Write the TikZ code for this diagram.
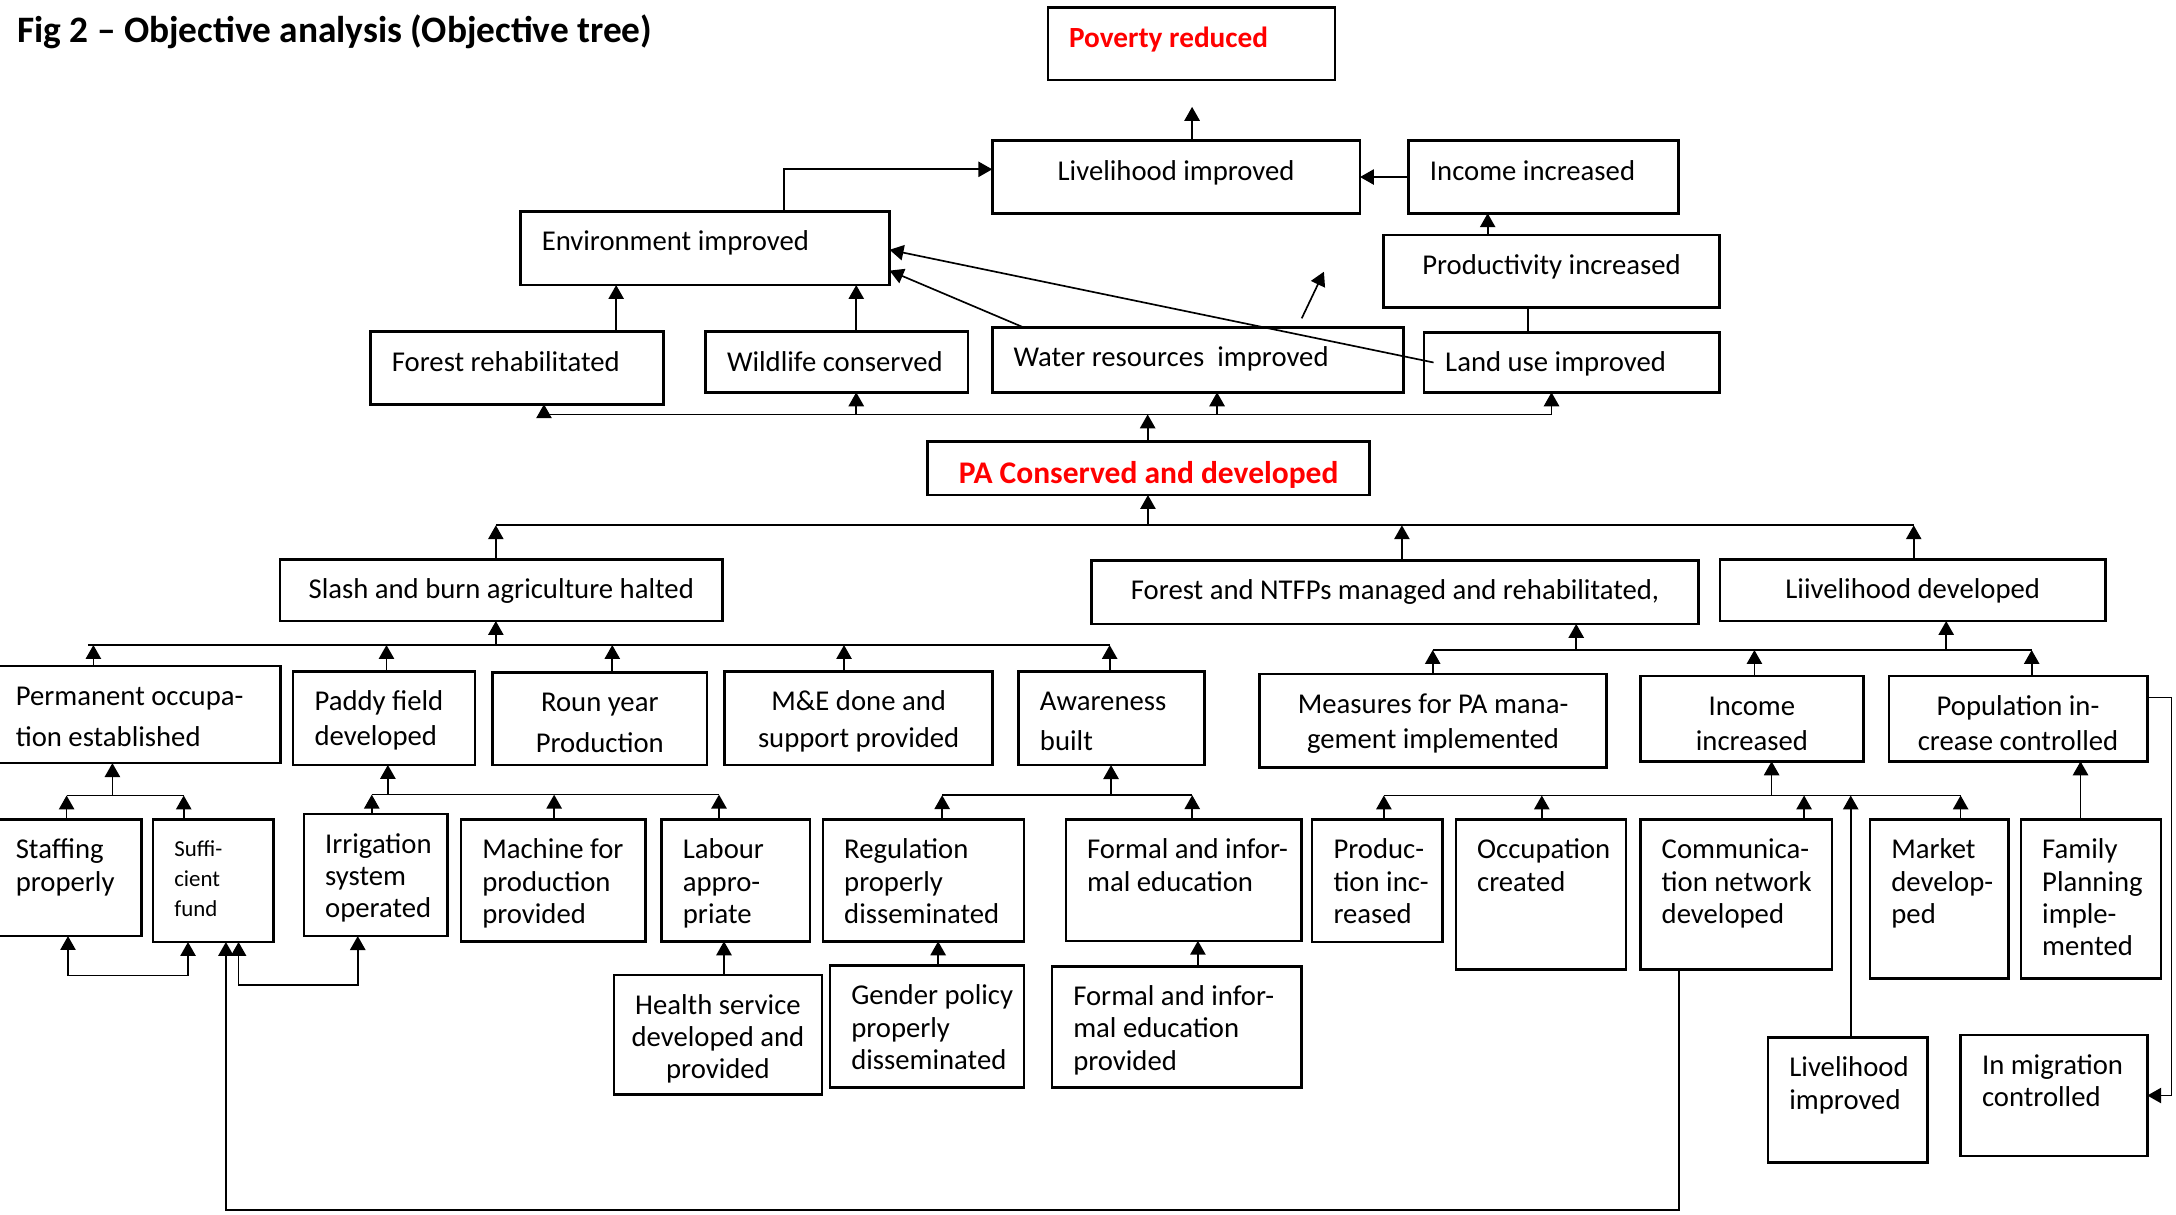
\documentclass[tikz,border=0pt]{standalone}
\usepackage{fontspec}
\setmainfont{Carlito}
\usetikzlibrary{arrows.meta,positioning}
\definecolor{objred}{RGB}{255,0,0}
\tikzset{
  box/.style={draw, line width=0.9pt, anchor=north west, inner sep=0pt, outer sep=0pt},
  lbl/.style={inner sep=0pt, font=\fontsize{10.3}{11.6}\selectfont},
  title/.style={inner sep=0pt, font=\fontsize{13.4}{15}\selectfont\bfseries},
  goaltext/.style={font=\fontsize{10.5}{12}\selectfont\bfseries, text=objred},
  purptext/.style={font=\fontsize{11.3}{13}\selectfont\bfseries, text=objred},
  smalltext/.style={font=\fontsize{8.2}{10.7}\selectfont},
  link/.style={line width=0.6pt},
  arr/.style={link, -{Triangle[length=5pt,width=5.5pt]}},
  dblarr/.style={link, {Triangle[length=5pt,width=5.5pt]}-{Triangle[length=5pt,width=5.5pt]}},
}
% box with left aligned text: [text options]{name}{x1}{y1}{x2}{y2}{text}
\newcommand{\objboxl}[7][]{%
  \pgfmathsetmacro{\bw}{((#5)-(#3))*0.0175}%
  \pgfmathsetmacro{\bh}{((#6)-(#4))*0.0175}%
  \node[box, minimum width=\bw cm, minimum height=\bh cm] (#2) at (#3,#4) {};
  \node[lbl, align=left, anchor=north west, #1] (#2-t) at ([shift={(0.2625cm,-0.2035cm)}]#2.north west) {\strut #7};}
% box with centred text
\newcommand{\objboxc}[7][]{%
  \pgfmathsetmacro{\bw}{((#5)-(#3))*0.0175}%
  \pgfmathsetmacro{\bh}{((#6)-(#4))*0.0175}%
  \node[box, minimum width=\bw cm, minimum height=\bh cm] (#2) at (#3,#4) {};
  \node[lbl, align=center, anchor=north, #1] (#2-t) at ([yshift=-0.2035cm]#2.north) {\strut #7};}

\begin{document}
\begin{tikzpicture}[x=0.0175cm, y=-0.0175cm]
  \useasboundingbox (0,0) rectangle (1568,875);
  \node[title, anchor=base west] (title) at (12,30.7) {Fig 2 – Objective analysis (Objective tree)};

  % Goal and upper objectives
  \objboxl[goaltext]{pov}{755}{5.3}{962}{57.6}{Poverty reduced}
  \objboxc{liv}{715}{101.4}{980}{153.7}{Livelihood improved}
  \objboxl{inc}{1015}{101.4}{1209.6}{153.7}{Income increased}
  \objboxl{env}{375}{152.5}{641}{205.4}{Environment improved}
  \objboxc{prod}{997}{169.3}{1239}{221.4}{Productivity increased}
  \objboxl{forest}{267}{239}{478}{291.3}{Forest rehabilitated}
  \objboxl{wild}{508.5}{239}{697.5}{282.7}{Wildlife conserved}
  \objboxl{water}{715}{236.1}{1011.3}{282.7}{Water resources\ \ improved}
  \objboxl{land}{1026}{239.7}{1239}{282.7}{Land use improved}
  \objboxc[purptext]{pa}{668.4}{318.2}{987}{356.7}{PA Conserved and developed}

  % Outputs
  \objboxc{slash}{201.8}{403}{520.6}{447.5}{Slash and burn agriculture halted}
  \objboxc{fnt}{786.6}{404}{1223.9}{449.6}{Forest and NTFPs managed and rehabilitated,}
  \objboxc{ldev}{1239.4}{403}{1517.2}{447.5}{Liivelihood developed}

  % Third level
  \objboxl{perm}{-4}{479.8}{202.2}{549.9}{Permanent occupa-\\[3.3pt]tion established}
  \objboxl{paddy}{211.3}{483.8}{342.2}{551.2}{Paddy field\\[1pt]developed}
  \objboxc{roun}{354.9}{484.5}{509.5}{551.2}{Roun year\\[3.2pt]Production}
  \objboxc{me}{522.2}{483.8}{715.3}{551.2}{M\&E done and\\[1.6pt]support provided}
  \objboxl{aware}{734}{483.8}{867.8}{551.3}{Awareness\\[2.8pt]built}
  \objboxc{meas}{907.7}{485.5}{1157.6}{553.1}{Measures for PA mana-\\[1.2pt]gement implemented}
  \objboxc{incm}{1182}{487}{1342.8}{548.6}{Income\\[1.2pt]increased}
  \objboxc{popc}{1361}{487}{1547.3}{548.6}{Population in-\\[1.2pt]crease controlled}

  % Activities
  \objboxl{staff}{-4}{590.4}{102.1}{674.5}{Staffing\\properly}
  \objboxl[smalltext]{suf}{110.2}{590.4}{197.1}{678.8}{Suffi-\\cient\\fund}
  \objboxl{irr}{218.9}{586.5}{322.5}{674.5}{Irrigation\\system\\operated}
  \objboxl{mach}{332.1}{590.4}{465}{678.3}{Machine for\\production\\provided}
  \objboxl{lab}{476.7}{590.4}{583.8}{678.3}{Labour\\appro-\\priate}
  \objboxl{reg}{592.9}{590.4}{738}{678.3}{Regulation\\properly\\disseminated}
  \objboxl{form}{768}{590.4}{937.7}{677.9}{Formal and infor-\\mal education}
  \objboxl{prodi}{945.5}{590.4}{1039.6}{678.6}{Produc-\\tion inc-\\reased}
  \objboxl{occ}{1049}{590.4}{1171.7}{698.6}{Occupation\\created}
  \objboxl{comm}{1182}{590.4}{1320}{698.6}{Communica-\\tion network\\developed}
  \objboxl{mkt}{1347.5}{590.4}{1447.4}{705}{Market\\develop-\\ped}
  \objboxl{fam}{1456.2}{590.4}{1557.1}{705}{Family\\Planning\\imple-\\mented}
  \objboxc{health}{442.3}{702.4}{592.4}{788.5}{Health service\\developed and\\provided}
  \objboxl{gend}{598}{695.8}{738}{783.7}{Gender policy\\properly\\disseminated}
  \objboxl{form2}{758}{696.3}{937.7}{783.7}{Formal and infor-\\mal education\\provided}
  \objboxl{liv2}{1274}{747.7}{1389}{837.8}{Livelihood\\improved}
  \objboxl{migr}{1412.8}{745.8}{1547.3}{833}{In migration\\controlled}

  % Links in the upper part
  \coordinate (povin) at (859,77);
  \draw[arr] (liv.north -| povin) -- (povin);
  \draw[arr] (inc.west) -- (liv.east);
  \draw[arr] (env.north -| 565,0) |- (liv.west |- 0,122);
  \draw[arr] (prod.north -| 1072,0) -- (inc.south -| 1072,0);
  \draw[link] (land.north -| 1101,0) -- (prod.south -| 1101,0);
  \draw[arr] (forest.north -| 444,0) -- (env.south -| 444,0);
  \draw[arr] (wild.north -| 617,0) -- (env.south -| 617,0);
  \draw[arr] (water.north -| 738,0) -- (env.east |- 0,195);
  \draw[arr] (land.west -| 1033,0) -- (env.east |- 0,180);
  \coordinate (strayA) at (938,229.4);
  \coordinate (strayB) at (954,195.8);
  \draw[arr] (strayA) -- (strayB);

  \coordinate (busA) at (0,298.6);
  \draw[link] (392,0 |- busA) -- (1118,0 |- busA);
  \foreach \n/\x in {forest/392, wild/617, water/877, land/1118}
    \draw[arr] (\x,0 |- busA) -- (\n.south -| \x,0);
  \draw[arr] (pa.north -| 827,0) -- (827,0 |- busA);

  % Outputs to purpose
  \coordinate (busB) at (0,378.5);
  \draw[link] (357.3,0 |- busB) -- (1379,0 |- busB);
  \draw[arr] (827.2,0 |- busB) -- (pa.south -| 827.2,0);
  \foreach \n/\x in {slash/357.3, fnt/1010.2, ldev/1379}
    \draw[arr] (\n.north -| \x,0) -- (\x,0 |- busB);

  \coordinate (busC) at (0,464.8);
  \draw[link] (63.4,0 |- busC) -- (799.6,0 |- busC);
  \draw[arr] (357.3,0 |- busC) -- (slash.south -| 357.3,0);
  \foreach \n/\x in {perm/67.3, paddy/278.5, roun/441.2, me/608.2, aware/799.6}
    \draw[arr] (\n.north -| \x,0) -- (\x,0 |- busC);

  \coordinate (busD) at (0,468.4);
  \draw[link] (1032.4,0 |- busD) -- (1464,0 |- busD);
  \draw[arr] (1135.8,0 |- busD) -- (fnt.south -| 1135.8,0);
  \draw[arr] (1402.4,0 |- busD) -- (ldev.south -| 1402.4,0);
  \foreach \n/\x in {meas/1032.4, incm/1264.2, popc/1464}
    \draw[arr] (\n.north -| \x,0) -- (\x,0 |- busD);

  % Activities to third level
  \coordinate (busE) at (0,573.2);
  \draw[link] (48,0 |- busE) -- (132.4,0 |- busE);
  \draw[arr] (81,0 |- busE) -- (perm.south -| 81,0);
  \foreach \n/\x in {staff/48, suf/132.4}
    \draw[arr] (\n.north -| \x,0) -- (\x,0 |- busE);

  \coordinate (loopA) at (0,703);
  \draw[dblarr] (suf.south -| 135.5,0) |- (49,0 |- loopA) -- (staff.south -| 49,0);
  \coordinate (loopB) at (0,709.6);
  \draw[dblarr] (irr.south -| 257.8,0) |- (171.9,0 |- loopB) -- (suf.south -| 171.9,0);
  \coordinate (loopC) at (0,872);
  \draw[arr] (comm.south -| 1210,0) |- (162.8,0 |- loopC) -- (suf.south -| 162.8,0);

  \coordinate (busF) at (0,572.6);
  \draw[link] (267.9,0 |- busF) -- (518.1,0 |- busF);
  \draw[arr] (279.5,0 |- busF) -- (paddy.south -| 279.5,0);
  \foreach \n/\x in {irr/267.9, mach/399.3, lab/518.1}
    \draw[arr] (\n.north -| \x,0) -- (\x,0 |- busF);

  \coordinate (busG) at (0,573);
  \draw[link] (678.9,0 |- busG) -- (859.1,0 |- busG);
  \draw[arr] (800.6,0 |- busG) -- (aware.south -| 800.6,0);
  \foreach \n/\x in {reg/678.9, form/859.1}
    \draw[arr] (\n.north -| \x,0) -- (\x,0 |- busG);

  \draw[arr] (health.north -| 521.7,0) -- (lab.south -| 521.7,0);
  \draw[arr] (gend.north -| 676,0) -- (reg.south -| 676,0);
  \draw[arr] (form2.north -| 863.2,0) -- (form.south -| 863.2,0);

  \coordinate (busH) at (0,573.2);
  \draw[link] (997.2,0 |- busH) -- (1412.8,0 |- busH);
  \draw[arr] (1276.6,0 |- busH) -- (incm.south -| 1276.6,0);
  \foreach \n/\x in {prodi/997.2, occ/1111, comm/1300, liv2/1333.6, mkt/1412.8}
    \draw[arr] (\n.north -| \x,0) -- (\x,0 |- busH);

  \draw[arr] (fam.north -| 1499.2,0) -- (popc.south -| 1499.2,0);
  \draw[arr] (popc.east |- 0,502.5) -| (1564.8,0 |- migr.east) -- (migr.east);
\end{tikzpicture}
\end{document}
